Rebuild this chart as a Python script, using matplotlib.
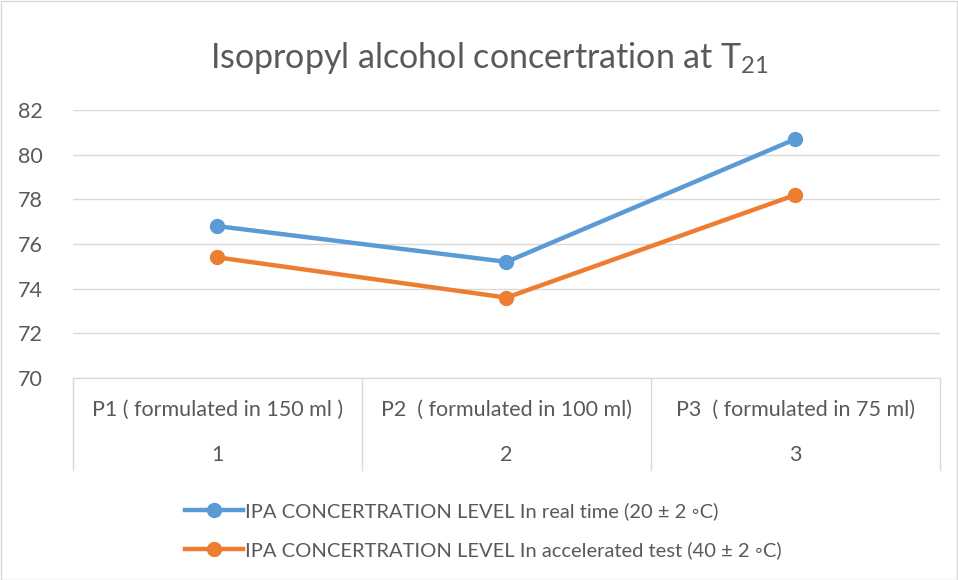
import matplotlib
matplotlib.use("Agg")
import matplotlib.pyplot as plt
from matplotlib.lines import Line2D

plt.rcParams['font.family'] = ['Lato', 'DejaVu Sans']
plt.rcParams['mathtext.fontset'] = 'custom'
plt.rcParams['mathtext.rm'] = 'Lato'
plt.rcParams['mathtext.default'] = 'regular'

categories = ["P1 ( formulated in 150 ml )", "P2  ( formulated in 100 ml)", "P3  ( formulated in 75 ml)"]
cat_numbers = ["1", "2", "3"]
real_time = [76.8, 75.2, 80.7]
accelerated = [75.4, 73.6, 78.2]
series_names = ["IPA CONCERTRATION LEVEL In real time (20 \u00b1 2 \u25e6C)",
                "IPA CONCERTRATION LEVEL In accelerated test (40 \u00b1 2 \u25e6C)"]
yticks = [70, 72, 74, 76, 78, 80, 82]

blue = "#5B9BD5"
orange = "#ED7D31"
txt = "#595959"
grid = "#D9D9D9"

W, H = 958, 580
fig = plt.figure(figsize=(W/100, H/100), dpi=100)
fig.patch.set_facecolor("white")
fig.add_artist(plt.Rectangle((0.5/W, 0.5/H), 1-1.5/W, 1-1.5/H, transform=fig.transFigure,
                             fill=False, edgecolor=grid, lw=1))

left, right, top, bottom = 73, 940, 110, 378
ax = fig.add_axes([left/W, 1-bottom/H, (right-left)/W, (bottom-top)/H])
x = [1, 2, 3]
ax.set_xlim(0.5, 3.5)
ax.set_ylim(70, 82)
ax.set_yticks(yticks)
ax.set_yticklabels([str(v) for v in yticks], color=txt, fontsize=15.5)
ax.tick_params(axis='y', length=0, pad=22)
ax.set_xticks([])
for s in ax.spines.values():
    s.set_visible(False)
ax.spines['bottom'].set_visible(True)
ax.spines['bottom'].set_color(grid)
ax.yaxis.grid(True, color=grid, lw=1)
ax.set_axisbelow(True)

ax.plot(x, real_time, color=blue, lw=3.2, marker='o', ms=10, solid_capstyle='round', zorder=3)
ax.plot(x, accelerated, color=orange, lw=3.2, marker='o', ms=10, solid_capstyle='round', zorder=3)

span = bottom - top
trans = ax.get_xaxis_transform()
for xv in [0.5, 1.5, 2.5, 3.5]:
    ax.add_line(Line2D([xv, xv], [0, -(470 - bottom) / span], transform=trans,
                       color=grid, lw=1, clip_on=False))
for i, (c, n) in enumerate(zip(categories, cat_numbers)):
    ax.text(x[i], -(410 - bottom) / span, c, transform=trans, ha='center', va='center',
            color=txt, fontsize=15.5)
    ax.text(x[i], -(455 - bottom) / span, n, transform=trans, ha='center', va='center',
            color=txt, fontsize=15.5)

fig.text(489/W, 1 - 58/H, "Isopropyl alcohol concertration at T$_{21}$", ha='center', va='center',
         color=txt, fontsize=24.5)

handles = [Line2D([], [], color=blue, lw=3.2, marker='o', ms=10),
           Line2D([], [], color=orange, lw=3.2, marker='o', ms=10)]
leg = fig.legend(handles, series_names, loc='upper left', bbox_to_anchor=(175/W, 1 - 492/H),
                 frameon=False, fontsize=14.5, handlelength=2.9, handletextpad=0.1,
                 labelspacing=1.05, borderpad=0)
for t in leg.get_texts():
    t.set_color(txt)

fig.savefig("out.png", dpi=100, facecolor="white")
